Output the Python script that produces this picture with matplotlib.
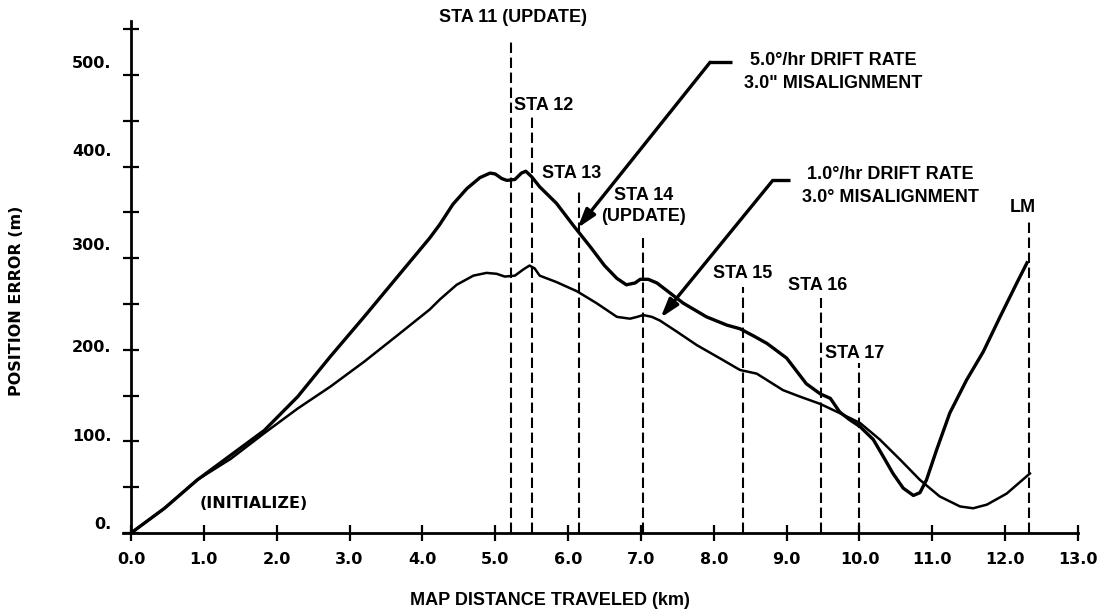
import matplotlib
matplotlib.use("Agg")
import matplotlib.pyplot as plt

# 5.0 deg/hr drift rate, 3.0" misalignment (thick curve)
dist_fast = [0.0, 0.46, 0.91, 1.37, 1.83, 2.29, 2.74, 3.20, 3.66, 4.10, 4.24, 4.42,
             4.61, 4.79, 4.93, 5.00, 5.09, 5.16, 5.27, 5.36, 5.42, 5.50, 5.61, 5.84,
             6.07, 6.30, 6.50, 6.67, 6.80, 6.92, 6.99, 7.10, 7.22, 7.40, 7.58, 7.90,
             8.18, 8.36, 8.55, 8.73, 9.00, 9.27, 9.46, 9.60, 9.73, 9.86, 10.01, 10.19,
             10.33, 10.46, 10.60, 10.74, 10.83, 10.92, 11.06, 11.24, 11.47, 11.70,
             11.93, 12.16, 12.30]
err_fast = [0, 27, 58, 85, 112, 149, 193, 236, 280, 322, 337, 359,
            376, 388, 393, 392, 387, 385, 386, 393, 395, 389, 378, 360,
            336, 313, 292, 278, 271, 273, 277, 277, 273, 262, 251, 236,
            227, 223, 215, 207, 191, 163, 152, 147, 132, 124, 116, 102,
            83, 65, 49, 41, 44, 58, 91, 131, 167, 198,
            236, 273, 295]

# 1.0 deg/hr drift rate, 3.0 deg misalignment
dist_slow = [0.0, 0.46, 0.91, 1.37, 1.83, 2.29, 2.74, 3.20, 3.66, 4.10, 4.24, 4.47,
             4.70, 4.88, 5.02, 5.13, 5.27, 5.39, 5.47, 5.54, 5.61, 5.84, 6.12, 6.39,
             6.67, 6.85, 6.95, 7.03, 7.15, 7.26, 7.49, 7.77, 8.10, 8.36, 8.59, 8.95,
             9.18, 9.46, 9.78, 10.01, 10.28, 10.56, 10.83, 11.10, 11.38, 11.56,
             11.75, 12.02, 12.34]
err_slow = [0, 27, 58, 81, 109, 136, 160, 187, 216, 244, 255, 271,
            281, 284, 283, 280, 281, 288, 292, 289, 281, 274, 264, 251,
            236, 234, 236, 238, 236, 232, 220, 205, 190, 178, 174, 156,
            149, 141, 129, 120, 102, 80, 58, 40, 29, 27,
            31, 43, 65]

# stations (dashed verticals)
sta_names = ["STA 11 (UPDATE)", "STA 12", "STA 13", "STA 14\n(UPDATE)",
             "STA 15", "STA 16", "STA 17", "LM"]
sta_x = [5.22, 5.50, 6.15, 7.03, 8.40, 9.47, 10.00, 12.33]
sta_top = [538, 454, 374, 322, 269, 257, 186, 342]
sta_lbl_x = [5.24, 5.66, 6.05, 7.04, 8.40, 9.42, 9.94, 12.24]
sta_lbl_y = [563, 467, 393, 357, 283, 270, 196, 355]

x_ticks = [float(v) for v in range(14)]
y_ticks = list(range(0, 551, 50))
y_labels = [0, 100, 200, 300, 400, 500]
y_label_pos = [9, 105, 202, 314, 416, 513]

fig = plt.figure(figsize=(10.99, 6.13), dpi=100)
ax = fig.add_axes([0.1119, 0.1305, 0.8690, 0.8352])

lab = dict(family="Liberation Sans", weight="bold", fontsize=13)
tick_font = dict(family="DejaVu Sans", weight="bold", fontsize=11.5)

ax.plot(dist_fast, err_fast, color="black", lw=2.4, solid_joinstyle="round")
ax.plot(dist_slow, err_slow, color="black", lw=1.8, solid_joinstyle="round")

ax.vlines(sta_x, 0, sta_top, colors="black", lw=1.5, linestyles=(0, (5, 2.2)))
for name, lx, ly in zip(sta_names, sta_lbl_x, sta_lbl_y):
    ax.text(lx, ly, name, ha="center", va="center", linespacing=1.3, **lab)

ax.text(1.68, 32, "(INITIALIZE)", ha="center", va="center", **tick_font)

# arrow labels
head = dict(arrowstyle="-|>,head_length=0.8,head_width=0.25", lw=2.4,
            color="black", mutation_scale=14, shrinkA=0, shrinkB=0)
ax.plot([7.95, 8.25], [514, 514], color="black", lw=2.4, solid_capstyle="butt")
ax.annotate("", xy=(6.13, 333), xytext=(7.95, 514), arrowprops=head)
ax.text(9.64, 516, "5.0°/hr DRIFT RATE", ha="center", va="center", **lab)
ax.text(9.64, 491, '3.0" MISALIGNMENT', ha="center", va="center", **lab)

ax.plot([8.81, 9.05], [385, 385], color="black", lw=2.4, solid_capstyle="butt")
ax.annotate("", xy=(7.27, 235), xytext=(8.81, 385), arrowprops=head)
ax.text(10.43, 391, "1.0°/hr DRIFT RATE", ha="center", va="center", **lab)
ax.text(10.43, 366, "3.0° MISALIGNMENT", ha="center", va="center", **lab)

# axes
ax.set_xlim(-0.11, 13.0)
ax.set_ylim(0, 559)
for s in ["top", "right"]:
    ax.spines[s].set_visible(False)
ax.spines["left"].set_position(("data", 0))
ax.spines["left"].set_linewidth(2.0)
ax.spines["bottom"].set_linewidth(2.0)

ax.set_xticks(x_ticks)
ax.set_xticklabels(["%.1f" % v for v in x_ticks], **tick_font)
ax.set_yticks(y_ticks)
ax.set_yticklabels([])
for v, p in zip(y_labels, y_label_pos):
    ax.text(-0.27, p, "%d." % v, ha="right", va="center", **tick_font)
ax.tick_params(axis="both", direction="inout", length=11, width=1.6, color="black")
ax.tick_params(axis="x", pad=8)

fig.text(0.5005, 0.0212, "MAP DISTANCE TRAVELED (km)", ha="center", va="center", **lab)
fig.text(0.0150, 0.509, "POSITION ERROR (m)", ha="center", va="center",
         rotation=90, **tick_font)

fig.savefig("out.png", dpi=100)
